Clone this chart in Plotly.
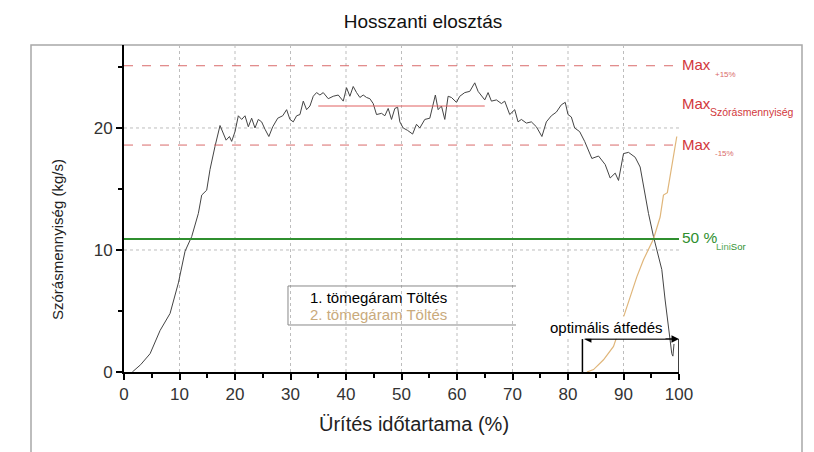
import plotly.graph_objects as go

# ---- data ----
x1 = [1.5, 3.0, 4.7, 6.5, 8.3, 9.8, 11.0, 12.2, 13.4, 14.0, 14.9, 15.5, 16.4,
      17.3, 18.4, 19.0, 19.4, 20.0, 20.6, 21.2, 21.8, 22.4, 23.0, 23.6, 24.2, 24.8, 25.4,
      26.1, 26.8, 27.7, 28.6, 29.3, 29.9, 30.5, 31.1, 31.7, 32.3, 32.9, 33.5, 34.1, 34.7,
      35.3, 35.9, 36.8, 37.7, 38.6, 39.5, 40.1, 40.7, 41.3, 41.9, 42.5, 43.1, 43.7, 44.3,
      44.9, 45.5, 46.4, 47.0, 47.6, 48.2, 48.8, 49.3, 49.7, 50.3, 51.1, 52.0, 52.7, 53.3,
      54.2, 55.1, 55.7, 56.1, 56.6, 57.2, 57.8, 58.4, 59.0, 59.9, 60.5, 61.4, 62.3, 63.2,
      63.8, 64.4, 65.0, 65.6, 66.2, 67.1, 68.0, 68.6, 69.5, 70.4, 71.0, 71.6, 72.5, 73.4,
      74.3, 75.3, 76.1, 77.0, 77.9, 78.8, 79.5, 80.0, 80.6, 81.2, 82.1, 83.0, 83.6,
      84.3, 85.5, 86.7, 87.6, 88.5, 89.1, 90.0, 90.9, 92.1, 93.0, 93.6, 94.5, 95.4, 96.3,
      96.9, 97.5, 97.9, 98.2, 98.5, 98.7, 98.9, 99.1]
y1 = [0.0, 0.6, 1.5, 3.4, 4.8, 7.3, 9.9, 11.1, 13.0, 14.5, 14.9, 16.6, 18.5,
      20.2, 19.0, 19.3, 18.9, 19.7, 21.0, 20.7, 21.0, 20.1, 20.8, 20.0, 20.7, 20.5, 19.9,
      19.3, 20.1, 20.8, 21.0, 21.5, 20.7, 20.5, 21.0, 21.1, 22.2, 21.5, 21.8, 22.6, 22.9,
      22.7, 22.9, 22.4, 22.6, 22.7, 22.2, 23.3, 22.6, 23.4, 22.9, 22.5, 22.7, 22.5, 22.4,
      22.0, 21.1, 21.2, 21.0, 21.6, 20.7, 21.6, 21.7, 20.5, 20.0, 19.8, 19.5, 20.3, 20.0,
      20.7, 20.8, 21.8, 22.7, 21.5, 21.8, 20.7, 22.6, 22.5, 22.1, 22.6, 22.9, 23.0, 23.7,
      23.0, 22.6, 22.3, 22.9, 22.2, 22.3, 22.0, 22.2, 21.1, 21.5, 20.5, 20.7, 20.4, 20.5,
      20.1, 19.3, 20.5, 21.0, 21.3, 21.9, 22.1, 21.1, 20.9, 20.0, 19.7, 18.9, 18.3,
      17.5, 17.7, 17.0, 15.9, 16.3, 15.7, 17.9, 18.0, 17.6, 16.8, 15.2, 13.0, 11.1, 9.5,
      8.4, 5.9, 4.5, 3.5, 2.6, 1.5, 1.3, 2.3]
assert len(x1) == len(y1)

x2 = [83.4, 84.6, 86.4, 88.2, 90.0, 91.2, 92.4, 93.6, 94.5, 95.4, 96.6, 97.2, 97.9, 98.7, 99.6]
y2 = [0.0, 0.2, 1.0, 2.1, 4.5, 6.2, 7.8, 9.2, 10.0, 10.9, 12.7, 14.5, 14.7, 16.8, 19.3]
assert len(x2) == len(y2)

max_plus = 25.1      # Max +15%
max_val = 21.8       # Max Szórásmennyiség
max_minus = 18.6     # Max -15%
half_line = 10.9     # 50 % LiniSor
max_span = [35, 65]
overlap = [82.6, 100]
overlap_h = 2.7

x_grid = [10, 20, 30, 40, 50, 60, 70, 80, 90]
y_grid = [10, 20]
x_ticks = [0, 10, 20, 30, 40, 50, 60, 70, 80, 90, 100]
y_ticks = [0, 10, 20]

title = "Hosszanti elosztás"
xtitle = "Ürítés időtartama (%)"
ytitle = "Szórásmennyiség (kg/s)"
leg1 = "1. tömegáram Töltés"
leg2 = "2. tömegáram Töltés"
lab_max = "Max"
sub_plus = "+15%"
sub_max = "Szórásmennyiség"
sub_minus = "-15%"
lab_half = "50 %"
sub_half_a = "Lini"
sub_half_b = "Sor"
lab_overlap = "optimális átfedés"

RED = "#d2383c"
RED_L = "#d96a6a"
GREEN = "#2f8f2f"
GREEN_L = "#56a856"
TAN = "#e0b67a"
TANTXT = "#c9aa7c"
FONT = "Liberation Sans, Arial, sans-serif"

XMAX = 100
YMAX = 26.8

# page offset from the default body margin of the html page
OFF = 8
PL, PR, PT, PB = 124, 679, 45, 372   # plot area in page pixels


def px(xp):   # page x pixel -> paper x
    return (xp - PL) / (PR - PL)


def py(yp):   # page y pixel -> paper y
    return (PB - yp) / (PB - PT)


fig = go.Figure()

shapes = []
for gx in x_grid:
    shapes.append(dict(type="line", xref="x", yref="y", x0=gx, x1=gx, y0=0, y1=YMAX,
                       line=dict(color="#bdbdbd", width=1, dash="dot"), layer="below"))
for gy in y_grid:
    shapes.append(dict(type="line", xref="x", yref="y", x0=0, x1=XMAX, y0=gy, y1=gy,
                       line=dict(color="#bdbdbd", width=1, dash="dot"), layer="below"))
for ly in (max_plus, max_minus):
    shapes.append(dict(type="line", xref="x", yref="y", x0=0, x1=XMAX, y0=ly, y1=ly,
                       line=dict(color=RED_L, width=1, dash="dash")))
shapes.append(dict(type="line", xref="x", yref="y", x0=max_span[0], x1=max_span[1],
                   y0=max_val, y1=max_val, line=dict(color="#e06060", width=1)))
shapes.append(dict(type="line", xref="x", yref="y", x0=0, x1=XMAX, y0=half_line, y1=half_line,
                   line=dict(color=GREEN, width=2)))
for bx in overlap:
    shapes.append(dict(type="line", xref="x", yref="y", x0=bx, x1=bx, y0=0, y1=overlap_h,
                       line=dict(color="black", width=1.5)))
shapes.append(dict(type="path", xref="paper", yref="paper",
                   path="M %f %f L %f %f L %f %f L %f %f" % (
                       px(516), py(286), px(288), py(286), px(288), py(325), px(516), py(325)),
                   line=dict(color="#888888", width=1)))
shapes.append(dict(type="rect", xref="paper", yref="paper",
                   x0=px(31), x1=px(802), y0=py(470), y1=1.0,
                   line=dict(color="#a8a8a8", width=1.5), layer="below"))

fig.add_trace(go.Scatter(x=x1, y=y1, mode="lines", line=dict(color="#444444", width=1),
                         showlegend=False, hoverinfo="skip"))
fig.add_trace(go.Scatter(x=x2, y=y2, mode="lines", line=dict(color=TAN, width=1.2),
                         showlegend=False, hoverinfo="skip"))

ann = []
ann.append(dict(x=overlap[1], y=overlap_h, ax=overlap[0], ay=overlap_h, xref="x", yref="y",
                axref="x", ayref="y", text="", showarrow=True, arrowhead=2, startarrowhead=2,
                arrowside="end+start", arrowwidth=1.5, arrowcolor="black", arrowsize=1))
ann.append(dict(x=px(606), y=py(327), xref="paper", yref="paper",
                text=lab_overlap, showarrow=False, bgcolor="white",
                font=dict(family=FONT, size=15, color="black"), xanchor="center", yanchor="middle",
                borderpad=2))
ann.append(dict(x=px(308), y=py(297), xref="paper", yref="paper",
                text=leg1, showarrow=False, xanchor="left", yanchor="middle",
                font=dict(family=FONT, size=15, color="black")))
ann.append(dict(x=px(308), y=py(314), xref="paper", yref="paper",
                text=leg2, showarrow=False, xanchor="left", yanchor="middle",
                font=dict(family=FONT, size=15, color=TANTXT)))


def lab(text, xp, yp, size, color):
    ann.append(dict(x=px(xp), y=py(yp), xref="paper", yref="paper", text=text,
                    showarrow=False, xanchor="left", yanchor="middle",
                    font=dict(family=FONT, size=size, color=color)))


lab(lab_max, 680, 64, 15, RED)
lab(sub_plus, 713, 74, 8, RED_L)
lab(lab_max, 680, 103, 15, RED)
lab(sub_max, 708, 112, 10.5, RED)
lab(lab_max, 680, 144, 15, RED)
lab(sub_minus, 713, 153, 8, RED_L)
lab(lab_half, 680, 237, 15.5, GREEN)
ann.append(dict(x=px(714), y=py(246), xref="paper", yref="paper",
                text="<span style='color:%s'>%s</span>%s" % (GREEN_L, sub_half_a, sub_half_b),
                showarrow=False, xanchor="left", yanchor="middle",
                font=dict(family=FONT, size=9.5, color=GREEN)))

ann.append(dict(x=px(57), y=py(240), xref="paper", yref="paper",
                text=ytitle, showarrow=False, textangle=-90, xanchor="center", yanchor="middle",
                font=dict(family=FONT, size=15, color="#222")))
ann.append(dict(x=px(414), y=py(424), xref="paper", yref="paper",
                text=xtitle, showarrow=False, xanchor="center", yanchor="middle",
                font=dict(family=FONT, size=20, color="#222")))

fig.update_layout(
    width=814, height=452,
    margin=dict(l=PL - OFF, r=814 - (PR - OFF), t=PT - OFF, b=452 - (PB - OFF)),
    paper_bgcolor="white", plot_bgcolor="white",
    title=dict(text=title, x=(423 - OFF) / 814, xanchor="center", y=1 - (21 - OFF) / 452,
               yanchor="middle", font=dict(family=FONT, size=19, color="#111")),
    shapes=shapes, annotations=ann, showlegend=False,
    xaxis=dict(range=[0, XMAX], tickvals=x_ticks, ticks="outside", ticklen=6, tickwidth=1.5,
               tickcolor="black", showline=True, linecolor="black", linewidth=2,
               showgrid=False, zeroline=False,
               minor=dict(dtick=5, tick0=0, ticks="outside", ticklen=4, tickcolor="black",
                          showgrid=False),
               tickfont=dict(family=FONT, size=17, color="#333")),
    yaxis=dict(range=[0, YMAX], tickvals=y_ticks, ticks="outside", ticklen=6, tickwidth=1.5,
               tickcolor="black", showline=True, linecolor="black", linewidth=2,
               showgrid=False, zeroline=False,
               minor=dict(dtick=5, tick0=0, ticks="outside", ticklen=4, tickcolor="black",
                          showgrid=False),
               tickfont=dict(family=FONT, size=17, color="#333")),
)

fig.write_html("out.html")
